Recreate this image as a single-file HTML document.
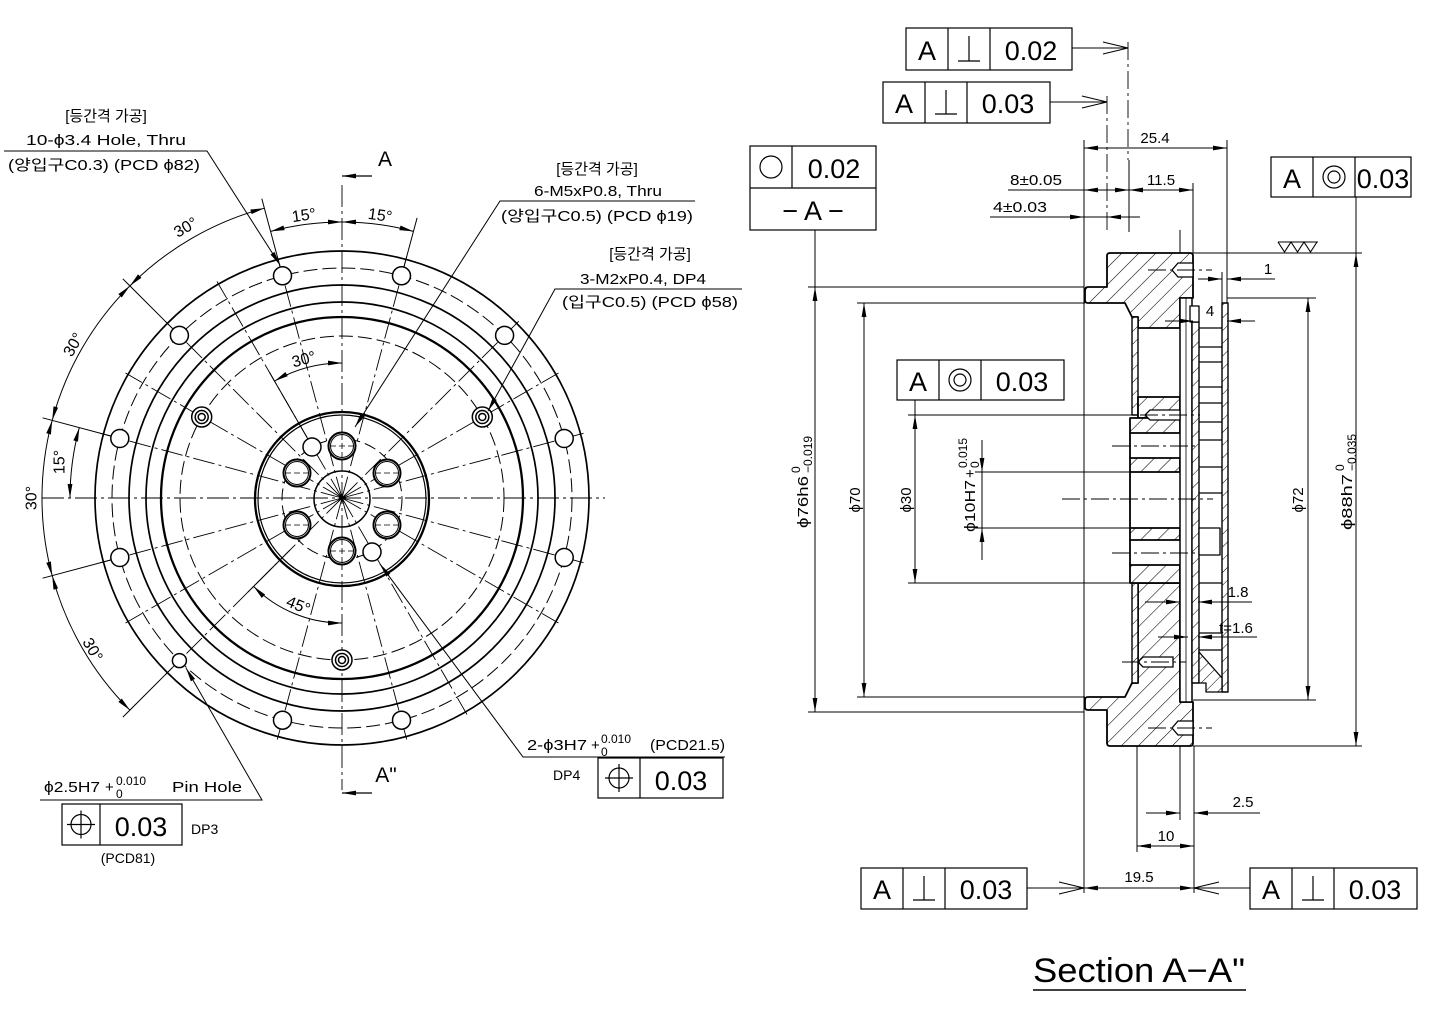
<!DOCTYPE html>
<html><head><meta charset="utf-8"><style>
html,body{margin:0;padding:0;background:#fff;}
svg{display:block;}
text{font-family:"Liberation Sans","Noto Sans CJK KR",sans-serif;fill:#000;}
</style></head><body>
<svg width="1447" height="1020" viewBox="0 0 1447 1020" xmlns="http://www.w3.org/2000/svg">
<defs>
<marker id="a" viewBox="0 0 14 6" refX="14" refY="3" markerWidth="14" markerHeight="6" markerUnits="userSpaceOnUse" orient="auto-start-reverse"><path d="M0,0.6L14,3L0,5.4z" fill="#000"/></marker>
<pattern id="h" patternUnits="userSpaceOnUse" width="12" height="12" patternTransform="rotate(45)"><rect width="12" height="12" fill="#fff"/><line x1="0" y1="0" x2="0" y2="12" stroke="#000" stroke-width="1.1"/></pattern>
<pattern id="h2" patternUnits="userSpaceOnUse" width="9" height="9" patternTransform="rotate(45)"><rect width="9" height="9" fill="#fff"/><line x1="0" y1="0" x2="0" y2="9" stroke="#000" stroke-width="1"/></pattern>
</defs>
<rect width="1447" height="1020" fill="#fff"/>

<!-- ================= FRONT VIEW ================= -->
<g fill="none" stroke="#000">
<!-- center lines -->
<g stroke-width="0.9" stroke-dasharray="22 4 3 4">
<line x1="342" y1="185" x2="342" y2="790"/>
<line x1="42" y1="498" x2="605" y2="498"/>
<path d="M342,498L406.7,256.5M342,498L277.3,256.5M342,498L518.8,321.2M342,498L165.2,321.2M342,498L583.5,433.3M342,498L100.5,433.3M342,498L583.5,562.7M342,498L100.5,562.7M342,498L406.7,739.5M342,498L277.3,739.5M342,498L165.2,674.8M342,498L558.5,373M342,498L125.5,373M342,498L558.5,623M342,498L125.5,623M342,498L217,281.5M342,498L467,714.5"/>
</g>
<!-- rings -->
<circle cx="342" cy="498" r="247" stroke-width="1.7"/>
<circle cx="342" cy="498" r="230" stroke-width="1" stroke-dasharray="14 5"/>
<circle cx="342" cy="498" r="213" stroke-width="1.7"/>
<circle cx="342" cy="498" r="196" stroke-width="1.7"/>
<circle cx="342" cy="498" r="181" stroke-width="2.3"/>
<circle cx="342" cy="498" r="162" stroke-width="1" stroke-dasharray="14 5"/>
<circle cx="342" cy="499" r="87" stroke-width="2.3"/>
<circle cx="342" cy="499" r="84" stroke-width="1.2"/>
<circle cx="342" cy="499" r="60" stroke-width="1" stroke-dasharray="12 5"/>
<circle cx="342" cy="499" r="28" stroke-width="1.5"/>
</g>
<!-- holes PCD82 -->
<g fill="#fff" stroke="#000" stroke-width="1.5">
<circle cx="401.5" cy="275.8" r="9"/><circle cx="282.5" cy="275.8" r="9"/>
<circle cx="504.6" cy="335.4" r="9"/><circle cx="179.4" cy="335.4" r="9"/>
<circle cx="564.2" cy="438.5" r="9"/><circle cx="119.8" cy="438.5" r="9"/>
<circle cx="564.2" cy="557.5" r="9"/><circle cx="119.8" cy="557.5" r="9"/>
<circle cx="401.5" cy="720.2" r="9"/><circle cx="282.5" cy="720.2" r="9"/>
<circle cx="179.4" cy="660.6" r="7"/>
<!-- M2 -->
<circle cx="482.3" cy="417" r="10"/><circle cx="201.7" cy="417" r="10"/><circle cx="342" cy="660" r="10"/>
<circle cx="482.3" cy="417" r="6.5"/><circle cx="201.7" cy="417" r="6.5"/><circle cx="342" cy="660" r="6.5"/>
<circle cx="482.3" cy="417" r="3.5"/><circle cx="201.7" cy="417" r="3.5"/><circle cx="342" cy="660" r="3.5"/>
<!-- M5 -->
<g stroke-width="2"><circle cx="342" cy="446" r="13.5"/><circle cx="387" cy="473" r="13.5"/><circle cx="387" cy="525" r="13.5"/><circle cx="342" cy="551" r="13.5"/><circle cx="297" cy="525" r="13.5"/><circle cx="297" cy="473" r="13.5"/></g>
<g stroke-width="1" fill="none"><circle cx="342" cy="446" r="11.5"/><circle cx="387" cy="473" r="11.5"/><circle cx="387" cy="525" r="11.5"/><circle cx="342" cy="551" r="11.5"/><circle cx="297" cy="525" r="11.5"/><circle cx="297" cy="473" r="11.5"/></g>
<!-- phi3 -->
<circle cx="312" cy="447" r="9"/><circle cx="372" cy="552" r="9"/>
</g>
<!-- hole centre crosses -->
<g stroke="#000" stroke-width="0.8" stroke-dasharray="6 3">
<path d="M330,446h24M342,434v24M330,551h24M342,539v24M285,473h24M285,525h24M375,473h24M375,525h24"/>
</g>

<!-- angular dims -->
<g fill="none" stroke="#000" stroke-width="1">
<path d="M279.9,266.2L261.8,198.6M172.3,328.3L122.8,278.8M110.2,435.9L42.6,417.8M110.2,560.1L42.6,578.2M172.3,667.7L122.8,717.2M404.1,266.2L417.1,217.9M307,437.4L269.5,372.4M290,550L248,592"/>
<path d="M264.4,208.2A300,300 0 0 0 129.9,285.9" marker-start="url(#a)" marker-end="url(#a)"/>
<path d="M129.9,285.9A300,300 0 0 0 52.2,420.4" marker-start="url(#a)" marker-end="url(#a)"/>
<path d="M52.2,420.4A300,300 0 0 0 52.2,575.6" marker-start="url(#a)" marker-end="url(#a)"/>
<path d="M52.2,575.6A300,300 0 0 0 129.9,710.1" marker-start="url(#a)" marker-end="url(#a)"/>
<path d="M342,222A276,276 0 0 0 270.6,231.4" marker-start="url(#a)" marker-end="url(#a)"/>
<path d="M342,222A276,276 0 0 1 413.4,231.4" marker-start="url(#a)" marker-end="url(#a)"/>
<path d="M70,498A272,272 0 0 1 79.3,427.6" marker-start="url(#a)" marker-end="url(#a)"/>
<path d="M342,363A135,135 0 0 0 274.5,381.1" marker-start="url(#a)" marker-end="url(#a)"/>
<path d="M342,623A125,125 0 0 1 253.6,586.4" marker-start="url(#a)" marker-end="url(#a)"/>
</g>
<g font-size="16" text-anchor="middle" dominant-baseline="central">
<text transform="translate(186,228) rotate(-30)">30°</text>
<text transform="translate(74,345) rotate(-60)">30°</text>
<text transform="translate(32,498) rotate(-90)">30°</text>
<text transform="translate(92,650) rotate(60)">30°</text>
<text transform="translate(60,462) rotate(-90)">15°</text>
<text transform="translate(304,216) rotate(-8)">15°</text>
<text transform="translate(380,216) rotate(8)">15°</text>
<text transform="translate(304,360) rotate(-15)">30°</text>
<text transform="translate(298,606) rotate(22)">45°</text>
</g>

<!-- section marks -->
<g stroke="#000" fill="none" stroke-width="1.3">
<line x1="342" y1="176" x2="372" y2="176" marker-start="url(#a)"/>
<line x1="342" y1="793" x2="372" y2="793" marker-start="url(#a)"/>
</g>
<text x="385" y="166" font-size="21" text-anchor="middle">A</text>
<text x="386" y="782" font-size="21" text-anchor="middle">A"</text>

<!-- leaders front -->
<g stroke="#000" stroke-width="1" fill="none">
<path d="M4,151H207L280,265" marker-end="url(#a)"/>
<path d="M695,201H500L355,427" marker-end="url(#a)"/>
<path d="M742,289H555L488,411" marker-end="url(#a)"/>
<path d="M40,800H262L186,668" marker-end="url(#a)"/>
<path d="M725,757H523L380,564" marker-end="url(#a)"/>
</g>
<g font-size="15">
<text x="106" y="121" text-anchor="middle">[등간격 가공]</text>
<text x="106" y="145" text-anchor="middle" textLength="160" lengthAdjust="spacingAndGlyphs">10-ϕ3.4 Hole, Thru</text>
<text x="104" y="170" text-anchor="middle" textLength="192" lengthAdjust="spacingAndGlyphs">(양입구C0.3) (PCD ϕ82)</text>
<text x="597" y="174" text-anchor="middle">[등간격 가공]</text>
<text x="598" y="196" text-anchor="middle" textLength="128" lengthAdjust="spacingAndGlyphs">6-M5xP0.8, Thru</text>
<text x="597" y="221" text-anchor="middle" textLength="192" lengthAdjust="spacingAndGlyphs">(양입구C0.5) (PCD ϕ19)</text>
<text x="650" y="259" text-anchor="middle">[등간격 가공]</text>
<text x="643" y="284" text-anchor="middle" textLength="126" lengthAdjust="spacingAndGlyphs">3-M2xP0.4, DP4</text>
<text x="650" y="307" text-anchor="middle" textLength="176" lengthAdjust="spacingAndGlyphs">(입구C0.5) (PCD ϕ58)</text>
<text x="44" y="792" textLength="56" lengthAdjust="spacingAndGlyphs">ϕ2.5H7</text>
<text x="105" y="792">+</text>
<text x="116" y="785" font-size="12">0.010</text>
<text x="116" y="798" font-size="12">0</text>
<text x="172" y="792" textLength="70" lengthAdjust="spacingAndGlyphs">Pin Hole</text>
<text x="191" y="834" font-size="14">DP3</text>
<text x="128" y="863" text-anchor="middle" font-size="14">(PCD81)</text>
<text x="527" y="750" textLength="60" lengthAdjust="spacingAndGlyphs">2-ϕ3H7</text>
<text x="591" y="750">+</text>
<text x="601" y="743" font-size="12">0.010</text>
<text x="601" y="756" font-size="12">0</text>
<text x="650" y="750" textLength="75" lengthAdjust="spacingAndGlyphs">(PCD21.5)</text>
<text x="553" y="780" font-size="14">DP4</text>
</g>
<!-- front boxes -->
<g stroke="#000" stroke-width="1.2" fill="none">
<rect x="62" y="804" width="120" height="41"/><line x1="100" y1="804" x2="100" y2="845"/>
<circle cx="81" cy="824.5" r="10"/><path d="M67,824.5h28M81,810.5v28"/>
<rect x="598" y="758" width="125" height="40"/><line x1="640" y1="758" x2="640" y2="798"/>
<circle cx="619" cy="778" r="10"/><path d="M605,778h28M619,764v28"/>
</g>
<text x="141" y="836" font-size="27" text-anchor="middle">0.03</text>
<text x="681" y="790" font-size="27" text-anchor="middle">0.03</text>

<!-- ================= SECTION VIEW ================= -->
<!-- extension / centre lines -->
<g stroke="#000" stroke-width="1" fill="none">
<line x1="1084" y1="140" x2="1084" y2="893"/>
<line x1="1227" y1="140" x2="1227" y2="303"/>
<line x1="1193" y1="183" x2="1193" y2="253"/>
<line x1="1129" y1="160" x2="1129" y2="232"/>
<line x1="1180" y1="230" x2="1180" y2="298"/>
<line x1="1222" y1="272" x2="1222" y2="303"/>
<line x1="1137" y1="683" x2="1137" y2="852"/>
<line x1="1180" y1="702" x2="1180" y2="820"/>
<line x1="1194" y1="746" x2="1194" y2="893"/>
<line x1="808" y1="287" x2="1084" y2="287"/>
<line x1="808" y1="712" x2="1084" y2="712"/>
<line x1="857" y1="303" x2="1085" y2="303"/>
<line x1="857" y1="697" x2="1085" y2="697"/>
<line x1="908" y1="415" x2="1132" y2="415"/>
<line x1="908" y1="583" x2="1132" y2="583"/>
<line x1="975" y1="472" x2="1130" y2="472"/>
<line x1="975" y1="528" x2="1130" y2="528"/>
<line x1="1193" y1="253" x2="1362" y2="253"/>
<line x1="1193" y1="746" x2="1362" y2="746"/>
<line x1="1227" y1="298" x2="1316" y2="298"/>
<line x1="1193" y1="700" x2="1316" y2="700"/>
</g>
<g stroke="#000" stroke-width="0.9" stroke-dasharray="18 4 3 4" fill="none">
<line x1="1128" y1="42" x2="1128" y2="160"/>
<line x1="1107" y1="96" x2="1107" y2="232"/>
</g>

<!-- body -->
<g stroke="#000" stroke-width="1.8" stroke-linejoin="round">
<path fill="url(#h)" d="M1110,253L1190,253Q1193,253 1193,256L1193,298L1180,298L1180,328L1138,328L1138,317L1132,317L1125,303L1088,303Q1085,303 1085,300L1085,290Q1085,287 1088,287L1107,287L1107,256Q1107,253 1110,253Z"/>
<path fill="url(#h)" d="M1138,583L1180,583L1180,702L1193,702L1193,743Q1193,746 1190,746L1110,746Q1107,746 1107,743L1107,710L1088,710Q1085,710 1085,707L1085,700Q1085,697 1088,697L1125,697L1132,683L1138,683Z"/>
<rect x="1132" y="317" width="6" height="98" fill="url(#h2)" stroke-width="1.4"/>
<rect x="1132" y="583" width="6" height="100" fill="url(#h2)" stroke-width="1.4"/>
<rect x="1138" y="397" width="42" height="21" fill="url(#h)"/>
<rect x="1130" y="418" width="50" height="15" fill="url(#h)"/>
<rect x="1130" y="458" width="50" height="14" fill="url(#h)"/>
<rect x="1130" y="528" width="50" height="12" fill="url(#h)"/>
<rect x="1130" y="565" width="50" height="18" fill="url(#h)"/>
<path fill="none" d="M1130,433V458M1130,540V565M1130,472V528"/>
<!-- plates -->
<rect x="1180" y="298" width="12" height="404" fill="#fff" stroke-width="1.5"/>
<rect x="1192" y="322" width="7" height="361" fill="url(#h2)" stroke-width="1.4"/>
<rect x="1190" y="306" width="9" height="16" fill="#fff" stroke-width="1.3"/>
<rect x="1222" y="303" width="6" height="389" fill="url(#h2)" stroke-width="1.4"/>
<path fill="url(#h2)" stroke-width="1.3" d="M1199,652L1222,678L1222,692L1206,692L1206,683L1199,683Z"/>
<rect x="1199" y="528" width="21" height="27" fill="#fff" stroke-width="1.3"/>
</g>
<g stroke="#000" stroke-width="1.2" fill="none">
<line x1="1186" y1="298" x2="1186" y2="702" stroke-width="0.8"/>
<path d="M1199,328H1222M1199,347H1222M1199,362H1222M1199,387H1222M1199,403H1222M1199,422H1222M1199,440H1222M1199,467H1222M1199,493H1222M1199,583H1222M1199,633H1222M1199,650H1222"/>
</g>
<!-- screws -->
<g stroke="#000" stroke-width="1.3" fill="#fff">
<path d="M1150,410H1180V420H1150L1145,415Z"/>
<path d="M1143,657H1173V667H1143L1138,662Z"/>
<path d="M1178,263H1193V277H1178L1172,270Z"/>
<path d="M1178,721H1193V735H1178L1172,728Z"/>
</g>
<g stroke="#000" stroke-width="0.9" stroke-dasharray="18 4 3 4" fill="none">
<line x1="1062" y1="499" x2="1213" y2="499"/>
<line x1="1112" y1="446" x2="1195" y2="446"/>
<line x1="1112" y1="553" x2="1195" y2="553"/>
<line x1="1148" y1="270" x2="1212" y2="270"/>
<line x1="1148" y1="728" x2="1212" y2="728"/>
<line x1="1140" y1="415" x2="1200" y2="415"/>
<line x1="1122" y1="662" x2="1186" y2="662"/>
</g>

<!-- dimension lines -->
<g stroke="#000" stroke-width="1" fill="none">
<line x1="1084" y1="148" x2="1227" y2="148" marker-start="url(#a)" marker-end="url(#a)"/>
<line x1="1008" y1="190" x2="1084" y2="190"/>
<line x1="1084" y1="190" x2="1129" y2="190" marker-start="url(#a)" marker-end="url(#a)"/>
<line x1="1129" y1="190" x2="1193" y2="190" marker-start="url(#a)" marker-end="url(#a)"/>
<line x1="990" y1="217" x2="1084" y2="217" marker-end="url(#a)"/>
<line x1="1140" y1="217" x2="1107" y2="217" marker-end="url(#a)"/>
<line x1="1084" y1="217" x2="1107" y2="217"/>
<line x1="1198" y1="279" x2="1222" y2="279" marker-end="url(#a)"/>
<line x1="1275" y1="279" x2="1227" y2="279" marker-end="url(#a)"/>
<line x1="1165" y1="321" x2="1193" y2="321" marker-end="url(#a)"/>
<line x1="1255" y1="321" x2="1227" y2="321" marker-end="url(#a)"/>
<line x1="1145" y1="602" x2="1180" y2="602" marker-end="url(#a)"/>
<line x1="1252" y1="602" x2="1198" y2="602" marker-end="url(#a)"/>
<line x1="1158" y1="637" x2="1188" y2="637" marker-end="url(#a)"/>
<line x1="1257" y1="637" x2="1198" y2="637" marker-end="url(#a)"/>
<line x1="1146" y1="813" x2="1180" y2="813" marker-end="url(#a)"/>
<line x1="1260" y1="813" x2="1194" y2="813" marker-end="url(#a)"/>
<line x1="1137" y1="846" x2="1194" y2="846" marker-start="url(#a)" marker-end="url(#a)"/>
<line x1="1084" y1="888" x2="1194" y2="888" marker-start="url(#a)" marker-end="url(#a)"/>
<line x1="1308" y1="298" x2="1308" y2="700" marker-start="url(#a)" marker-end="url(#a)"/>
<line x1="1356" y1="197" x2="1356" y2="253"/>
<line x1="1356" y1="253" x2="1356" y2="746" marker-start="url(#a)" marker-end="url(#a)"/>
<line x1="815" y1="230" x2="815" y2="287"/>
<line x1="815" y1="287" x2="815" y2="712" marker-start="url(#a)" marker-end="url(#a)"/>
<line x1="864" y1="303" x2="864" y2="697" marker-start="url(#a)" marker-end="url(#a)"/>
<line x1="915" y1="400" x2="915" y2="415"/>
<line x1="915" y1="415" x2="915" y2="583" marker-start="url(#a)" marker-end="url(#a)"/>
<line x1="982" y1="440" x2="982" y2="472" marker-end="url(#a)"/>
<line x1="982" y1="560" x2="982" y2="528" marker-end="url(#a)"/>
<line x1="982" y1="472" x2="982" y2="528"/>
<!-- leaders for frames -->
<path d="M1072,48H1128M1103,42L1128,48L1103,54"/>
<path d="M1050,102H1107M1082,96L1107,102L1082,108"/>
<path d="M1027,888H1084M1059,882L1084,888L1059,894"/>
<path d="M1250,888H1194M1219,882L1194,888L1219,894"/>
<!-- roughness -->
<path d="M1278,242H1318M1278,242L1284.5,252L1291,242L1297.5,252L1304,242L1310.5,252L1317,242" stroke-width="1.1"/>
</g>
<g font-size="15">
<text x="1155" y="143" text-anchor="middle">25.4</text>
<text x="1036" y="185" text-anchor="middle" textLength="52" lengthAdjust="spacingAndGlyphs">8±0.05</text>
<text x="1161" y="185" text-anchor="middle">11.5</text>
<text x="1020" y="212" text-anchor="middle" textLength="54" lengthAdjust="spacingAndGlyphs">4±0.03</text>
<text x="1268" y="274" text-anchor="middle">1</text>
<text x="1210" y="316" text-anchor="middle">4</text>
<text x="1238" y="597" text-anchor="middle">1.8</text>
<text x="1236" y="633" text-anchor="middle">t=1.6</text>
<text x="1243" y="807" text-anchor="middle">2.5</text>
<text x="1166" y="841" text-anchor="middle">10</text>
<text x="1139" y="882" text-anchor="middle">19.5</text>
<text transform="translate(1303,500) rotate(-90)" text-anchor="middle">ϕ72</text>
<text transform="translate(860,500) rotate(-90)" text-anchor="middle">ϕ70</text>
<text transform="translate(911,500) rotate(-90)" text-anchor="middle">ϕ30</text>
<g transform="translate(808,528) rotate(-90)">
<text x="0" y="0" textLength="52" lengthAdjust="spacingAndGlyphs">ϕ76h6</text>
<text x="55" y="-8" font-size="12">0</text>
<text x="55" y="4" font-size="12">−0.019</text>
</g>
<g transform="translate(1352,530) rotate(-90)">
<text x="0" y="0" textLength="56" lengthAdjust="spacingAndGlyphs">ϕ88h7</text>
<text x="59" y="-8" font-size="12">0</text>
<text x="59" y="4" font-size="12">−0.035</text>
</g>
<g transform="translate(975,532) rotate(-90)">
<text x="0" y="0" textLength="52" lengthAdjust="spacingAndGlyphs">ϕ10H7</text>
<text x="54" y="0">+</text>
<text x="64" y="-8" font-size="12">0.015</text>
<text x="64" y="4" font-size="12">0</text>
</g>
</g>

<!-- feature control frames section -->
<g stroke="#000" stroke-width="1.2" fill="none">
<rect x="906" y="28" width="166" height="42"/><path d="M948,28V70M990,28V70M969,36V61M958,61H980"/>
<rect x="883" y="82" width="167" height="41"/><path d="M925,82V123M967,82V123M946,90V114M935,114H957"/>
<rect x="750" y="146" width="126" height="84"/><path d="M750,188H876M792,146V188"/><circle cx="771" cy="167" r="11"/>
<rect x="1271" y="157" width="140" height="40"/><path d="M1313,157V197M1355,157V197"/><circle cx="1334" cy="177" r="11"/><circle cx="1334" cy="177" r="6"/>
<rect x="897" y="360" width="167" height="40"/><path d="M939,360V400M981,360V400"/><circle cx="960" cy="380" r="11"/><circle cx="960" cy="380" r="6"/>
<rect x="861" y="868" width="166" height="41"/><path d="M903,868V909M945,868V909M924,876V900M913,900H935"/>
<rect x="1250" y="868" width="167" height="41"/><path d="M1292,868V909M1334,868V909M1313,876V900M1302,900H1324"/>
</g>
<g font-size="27" text-anchor="middle">
<text x="927" y="60">A</text><text x="1031" y="60">0.02</text>
<text x="904" y="113">A</text><text x="1008" y="113">0.03</text>
<text x="834" y="178">0.02</text><text x="813" y="220">− A −</text>
<text x="1292" y="188">A</text><text x="1383" y="188">0.03</text>
<text x="918" y="391">A</text><text x="1022" y="391">0.03</text>
<text x="882" y="899">A</text><text x="986" y="899">0.03</text>
<text x="1271" y="899">A</text><text x="1375" y="899">0.03</text>
</g>

<!-- title -->
<text x="1139" y="982" font-size="34" text-anchor="middle" textLength="212" lengthAdjust="spacingAndGlyphs">Section A−A"</text>
<line x1="1033" y1="990" x2="1246" y2="990" stroke="#000" stroke-width="1.6"/>
</svg>
</body></html>
